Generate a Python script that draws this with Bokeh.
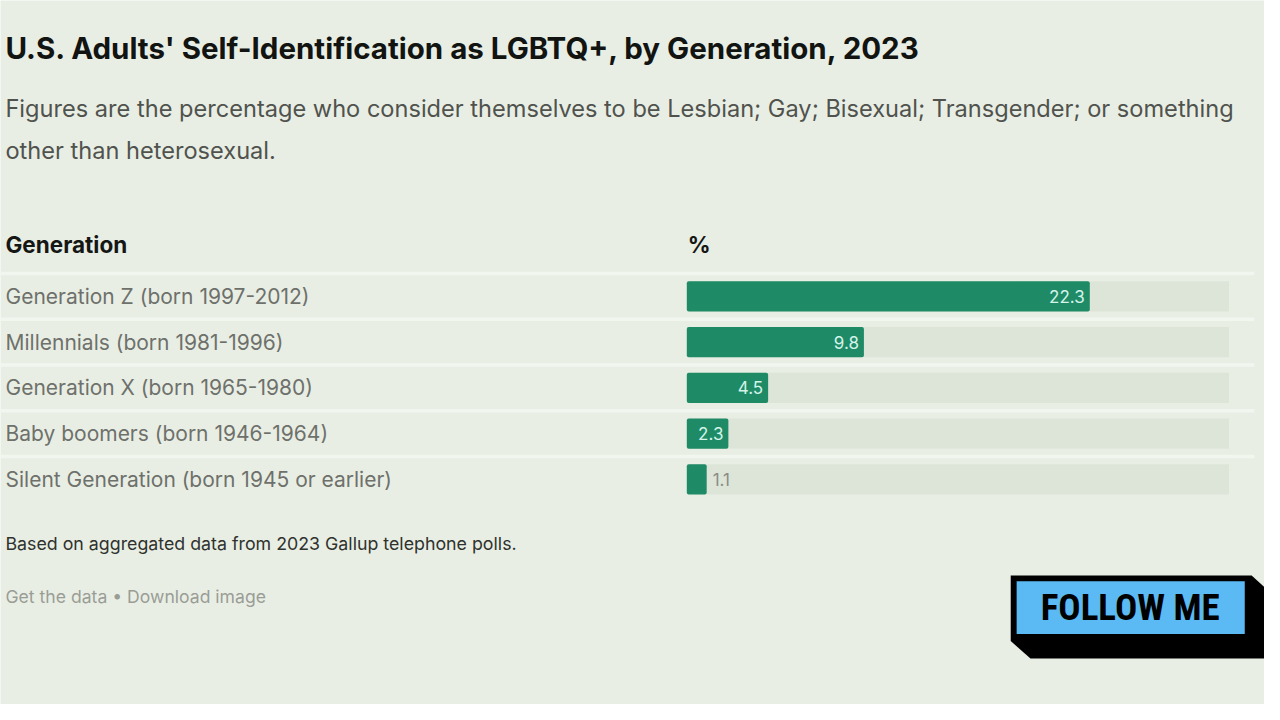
from bokeh.plotting import figure
from bokeh.models import Range1d
from bokeh.core.properties import value
from bokeh.embed import file_html
from bokeh.resources import INLINE

# ---- data ----
generations = [
    "Generation Z (born 1997-2012)",
    "Millennials (born 1981-1996)",
    "Generation X (born 1965-1980)",
    "Baby boomers (born 1946-1964)",
    "Silent Generation (born 1945 or earlier)",
]
percent = [22.3, 9.8, 4.5, 2.3, 1.1]
value_labels = ["22.3", "9.8", "4.5", "2.3", "1.1"]

title = "U.S. Adults' Self-Identification as LGBTQ+, by Generation, 2023"
subtitle_lines = [
    "Figures are the percentage who consider themselves to be Lesbian; Gay; Bisexual; Transgender; or something",
    "other than heterosexual.",
]
col_headers = ["Generation", "%"]
footnote = "Based on aggregated data from 2023 Gallup telephone polls."
links = "Get the data \u2022 Download image"
badge = "FOLLOW ME"

# ---- layout constants (reference is 1280x720) ----
W, H = 1264, 704
RW, RH = 1280, 720
X_MAX = 30                   # end of the grey track (axis max)
BAR_X0, BAR_X1 = 695, 1244   # reference-pixel span of the track
ROW0, PITCH = 302.5, 46.8    # reference-pixel row centre / row pitch

BG = "#e9eee5"
TRACK = "#dde4d8"
GREEN = "#1f8b66"
FONT = "Inter"

k = (BAR_X1 - BAR_X0) / X_MAX
x_range = Range1d(-BAR_X0 / k, (RW - BAR_X0) / k)
y_range = Range1d((RH - ROW0) / PITCH, -ROW0 / PITCH)

p = figure(width=W, height=H, x_range=x_range, y_range=y_range,
           output_backend="svg", toolbar_location=None,
           min_border=0, background_fill_color=BG, border_fill_color=BG,
           outline_line_color=None)
p.xaxis.visible = False
p.yaxis.visible = False
p.grid.visible = False
# ranges in reference-pixel units for page furniture
p.extra_x_ranges = {"px": Range1d(0, RW)}
p.extra_y_ranges = {"px": Range1d(RH, 0)}

idx = list(range(len(generations)))

# separators between rows
p.segment(x0=[x_range.start] * len(idx), x1=[X_MAX + 1.4] * len(idx),
          y0=[i - 0.5 for i in idx], y1=[i - 0.5 for i in idx],
          line_color="#f2f6ef", line_width=3.5, line_alpha=0.9)

# tracks and bars
p.hbar(y=idx, left=0, right=[X_MAX] * len(idx), height=0.66, fill_color=TRACK, line_color=None)
p.hbar(y=idx, left=0, right=percent, height=0.66, fill_color=GREEN, line_color=None,
       border_radius=2)

# value labels
inside = [i for i in idx if percent[i] >= 2]
outside = [i for i in idx if percent[i] < 2]
p.text(x=[percent[i] for i in inside], y=inside, text=[value_labels[i] for i in inside],
       x_offset=-5, text_align="right", text_baseline="middle",
       text_font=value(FONT), text_font_size="17px", text_color="#d4f3ea")
p.text(x=[percent[i] for i in outside], y=outside, text=[value_labels[i] for i in outside],
       x_offset=6, text_align="left", text_baseline="middle",
       text_font=value(FONT), text_font_size="17px", text_color="#8a8d86")

# category labels
p.text(x=[x_range.start] * len(idx), y=idx, text=generations, x_offset=5,
       text_align="left", text_baseline="middle",
       text_font=value(FONT), text_font_size="21px", text_color="#6e716b")

# titles and headers (reference pixel coords, vertical centres)
def ptext(x, y, txt, size, color, style="normal", font=FONT, align="left"):
    p.text(x=[x], y=[y], text=[txt], x_range_name="px", y_range_name="px",
           text_align=align, text_baseline="middle",
           text_font=value(font), text_font_size=size, text_color=color,
           text_font_style=style)

ptext(5, 49, title, "29.5px", "#121411", "bold")
ptext(5, 110, subtitle_lines[0], "23.6px", "#50534d")
ptext(5, 153, subtitle_lines[1], "23.6px", "#50534d")
ptext(5, 250, col_headers[0], "22.5px", "#151714", "bold")
ptext(BAR_X0 + 1, 250, col_headers[1], "22.5px", "#151714", "bold")
ptext(5, 555, footnote, "17.8px", "#2f322d")
ptext(5, 610, links, "17.6px", "#9a9d96")

# FOLLOW ME badge
p.patch(x=[1023, 1267, 1280, 1280, 1043, 1023], y=[588, 588, 600, 673, 673, 655],
        x_range_name="px", y_range_name="px", fill_color="#000000", line_color=None)
p.quad(left=[1029], right=[1260], top=[594], bottom=[648],
       x_range_name="px", y_range_name="px", fill_color="#5bbaf3", line_color=None)
p.text(x=[1144], y=[621], text=[badge], x_range_name="px", y_range_name="px",
       text_align="center", text_baseline="middle",
       text_font=value("'Roboto Condensed', 'DejaVu Sans Condensed', 'Liberation Sans Narrow', sans-serif"),
       text_font_size="37px", text_font_style="bold", text_color="#000000")

open("out.html", "w").write(file_html(p, INLINE))
